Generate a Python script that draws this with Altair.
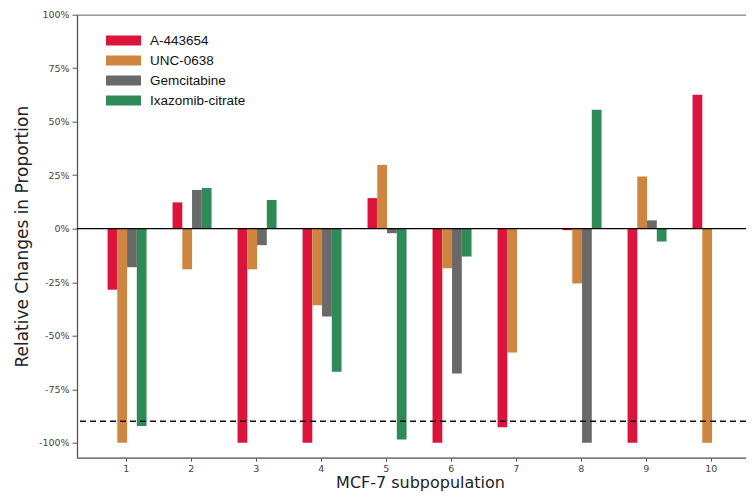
import altair as alt
import pandas as pd

# ---- data ----
subpops = [1, 2, 3, 4, 5, 6, 7, 8, 9, 10]
drugs = ["A-443654", "UNC-0638", "Gemcitabine", "Ixazomib-citrate"]
a443654 = [-0.285, 0.123, -1.0, -1.0, 0.143, -1.0, -0.928, -0.007, -1.0, 0.626]
unc0638 = [-1.0, -0.19, -0.19, -0.358, 0.298, -0.185, -0.578, -0.256, 0.244, -1.0]
gemcitabine = [-0.18, 0.181, -0.077, -0.41, -0.021, -0.677, 0.0, -1.0, 0.039, 0.0]
ixazomib = [-0.922, 0.19, 0.134, -0.668, -0.985, -0.13, 0.0, 0.556, -0.06, 0.0]
y_ticks = [-1.0, -0.75, -0.5, -0.25, 0.0, 0.25, 0.5, 0.75, 1.0]
threshold = -0.9
zero_line = 0.0

# ---- styling ----
colors = ["#DC143C", "#CD853F", "#696969", "#2E8B57"]
offsets = [-0.205, -0.055, 0.095, 0.245]
bar_w = 0.15
W, H = 669, 443

series = [a443654, unc0638, gemcitabine, ixazomib]
rows = []
for d, vals, off in zip(drugs, series, offsets):
    for s, v in zip(subpops, vals):
        rows.append({"sub": s, "drug": d, "value": v,
                     "x0": s + off - bar_w / 2, "x1": s + off + bar_w / 2})
df = pd.DataFrame(rows)

xscale = alt.Scale(domain=[0.25, 0.25 + W / 65.0], nice=False, zero=False)
yscale = alt.Scale(domain=[1.0 - H / 214.0, 1.0], nice=False)

bars = alt.Chart(df).mark_bar(opacity=1).encode(
    x=alt.X("x0:Q", scale=xscale,
            axis=alt.Axis(values=subpops, format="d", title="MCF-7 subpopulation",
                          grid=False, domainColor="#555", domainWidth=1.3,
                          tickColor="#555", tickSize=3.5, labelFontSize=9.5,
                          labelColor="#444", labelFont="DejaVu Sans", labelPadding=2,
                          titleFont="DejaVu Sans", titleFontSize=16,
                          titleFontWeight="normal", titleColor="#222",
                          titlePadding=2, titleX=343, titleAlign="center")),
    x2="x1:Q",
    y=alt.Y("value:Q", scale=yscale,
            axis=alt.Axis(values=y_ticks, labelExpr="round(datum.value*100) + '%'",
                          title="Relative Changes in Proportion", grid=False,
                          domainColor="#555", domainWidth=1.3, tickColor="#555",
                          tickSize=5, labelFontSize=9.5, labelColor="#444",
                          labelFont="DejaVu Sans", labelPadding=3,
                          titleFont="DejaVu Sans", titleFontSize=17,
                          titleFontWeight="normal", titleColor="#222",
                          titlePadding=7)),
    y2=alt.datum(0),
    color=alt.Color("drug:N", scale=alt.Scale(domain=drugs, range=colors),
                    legend=alt.Legend(title=None, orient="none", legendX=36.5,
                                      legendY=15.9, symbolType="M-1.75,-0.5H1.75V0.5H-1.75Z",
                                      symbolSize=400, symbolStrokeWidth=0,
                                      symbolOpacity=1, labelFontSize=13.5,
                                      labelFont="Liberation Sans", labelColor="#111",
                                      labelOffset=16.5, rowPadding=3, padding=0)),
)

zero = alt.Chart(pd.DataFrame({"v": [zero_line]})).mark_rule(color="#000", strokeWidth=1.2).encode(
    y=alt.Y("v:Q", scale=yscale))
dash = alt.Chart(pd.DataFrame({"v": [threshold]})).mark_rule(
    color="#111", strokeWidth=1.5, strokeDash=[6, 4]).encode(y=alt.Y("v:Q", scale=yscale))
top = alt.Chart(df).mark_point(opacity=0).encode(
    x=alt.X("x0:Q", scale=xscale,
            axis=alt.Axis(orient="top", labels=False, ticks=False, title=None,
                          grid=False, domainColor="#999", domainWidth=1.5)))

chart = alt.layer(bars, zero, dash, top).resolve_axis(x="independent").properties(
    width=W, height=H,
    autosize=alt.AutoSizeParams(type="none"),
    padding={"left": 69, "top": 6.7, "right": 0, "bottom": 34},
).configure_view(stroke=None).configure(background="white")

chart.save("out.html", embed_options={"renderer": "svg", "actions": False})
